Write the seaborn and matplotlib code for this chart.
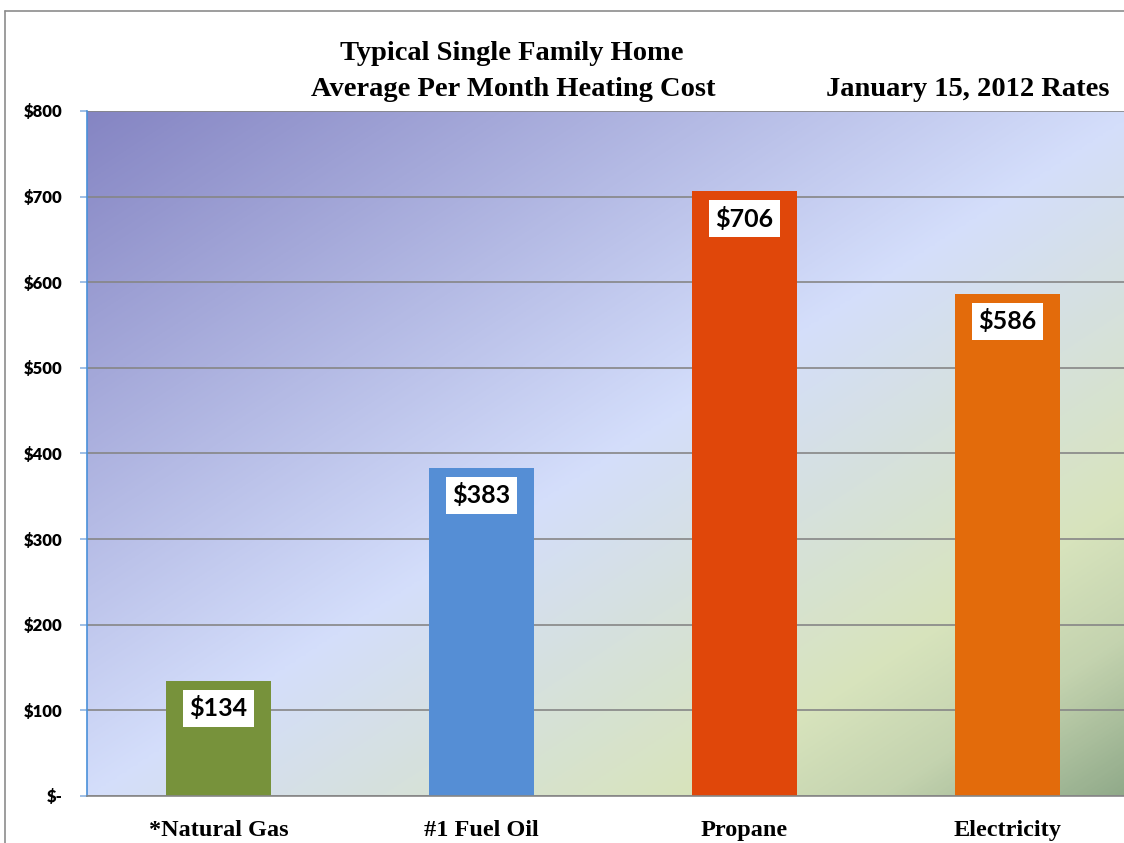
import numpy as np
import pandas as pd
import matplotlib.pyplot as plt
import seaborn as sns
from matplotlib.colors import LinearSegmentedColormap
from matplotlib.lines import Line2D

# data
fuels = ["*Natural Gas", "#1 Fuel Oil", "Propane", "Electricity"]
monthly_cost = [134, 383, 706, 586]
bar_colors = ["#77923b", "#558ed5", "#e0470a", "#e36b0b"]
y_ticks = [0, 100, 200, 300, 400, 500, 600, 700, 800]

df = pd.DataFrame({"fuel": fuels, "cost": monthly_cost})

sns.set_style("white")
plt.rcParams["text.color"] = "black"
fig = plt.figure(figsize=(11.24, 8.43), dpi=100)
ax = fig.add_axes([87 / 1124, 47 / 843, 1052 / 1124, 685 / 843])

# diagonal gradient background (top-left -> bottom-right)
bg = LinearSegmentedColormap.from_list(
    "bg",
    [(0.0, "#8585c3"), (0.5, "#d4defb"), (0.78, "#d8e4bd"),
     (0.88, "#c4d3af"), (1.0, "#8ea888")],
)
u, v = np.meshgrid(np.linspace(0, 1, 400), np.linspace(0, 1, 400))
grad = (u + v) / 2
ax.imshow(grad, cmap=bg, extent=[0, 1, 0, 1], transform=ax.transAxes,
          aspect="auto", zorder=0, origin="upper", interpolation="bilinear")

sns.barplot(data=df, x="fuel", y="cost", hue="fuel", palette=bar_colors,
            width=0.4, legend=False, ax=ax, saturation=1, zorder=2,
            linewidth=0, edgecolor="none")

ax.set_xlim(-0.5, 3.5)
ax.set_ylim(0, 800)
ax.set_yticks(y_ticks)
ax.set_yticklabels([f"${t}" if t else "$-" for t in y_ticks],
                   fontfamily="Lato", fontweight="heavy", fontsize=12, color="black")
ax.set_xticks(range(len(fuels)))
ax.set_xticklabels(fuels, fontfamily="Liberation Serif", fontweight="bold",
                   fontsize=17.5, color="black")
ax.tick_params(axis="y", length=5, width=1.2, color="#8db4e2", pad=12.5, left=True)
ax.tick_params(axis="x", length=0, pad=17)
ax.set_xlabel("")
ax.set_ylabel("")

ax.yaxis.grid(True, color="#868686", linewidth=1.2, zorder=1)
ax.set_axisbelow(True)
for s in ["top", "right"]:
    ax.spines[s].set_visible(False)
ax.spines["left"].set_color("#4a90d9")
ax.spines["left"].set_linewidth(1.2)
ax.spines["bottom"].set_color("#868686")
ax.spines["bottom"].set_linewidth(1.2)

# value labels in white boxes
for i, val in enumerate(monthly_cost):
    ax.annotate(f"${val}", xy=(i, val), xytext=(0, -19.5), textcoords="offset points",
                ha="center", va="center", fontfamily="Lato", fontweight="bold",
                fontsize=18, color="black", zorder=4,
                bbox=dict(boxstyle="square,pad=0.26", fc="white", ec="none"))

# titles
title_kw = dict(va="center", fontfamily="Liberation Serif", fontweight="bold",
                fontsize=20.5, color="black")
fig.text(512 / 1124, 1 - 54 / 843, "Typical Single Family Home", ha="center", **title_kw)
fig.text(513 / 1124, 1 - 89 / 843, "Average Per Month Heating Cost", ha="center", **title_kw)
fig.text(1110 / 1124, 1 - 89 / 843, "January 15, 2012 Rates", ha="right", **title_kw)

# outer chart frame (top and left edges visible)
fig.add_artist(Line2D([5 / 1124, 1.0], [1 - 11 / 843] * 2, color="#8c8c8c", lw=1.2))
fig.add_artist(Line2D([5 / 1124] * 2, [0, 1 - 11 / 843], color="#8c8c8c", lw=1.2))

fig.savefig("out.png", dpi=100)
